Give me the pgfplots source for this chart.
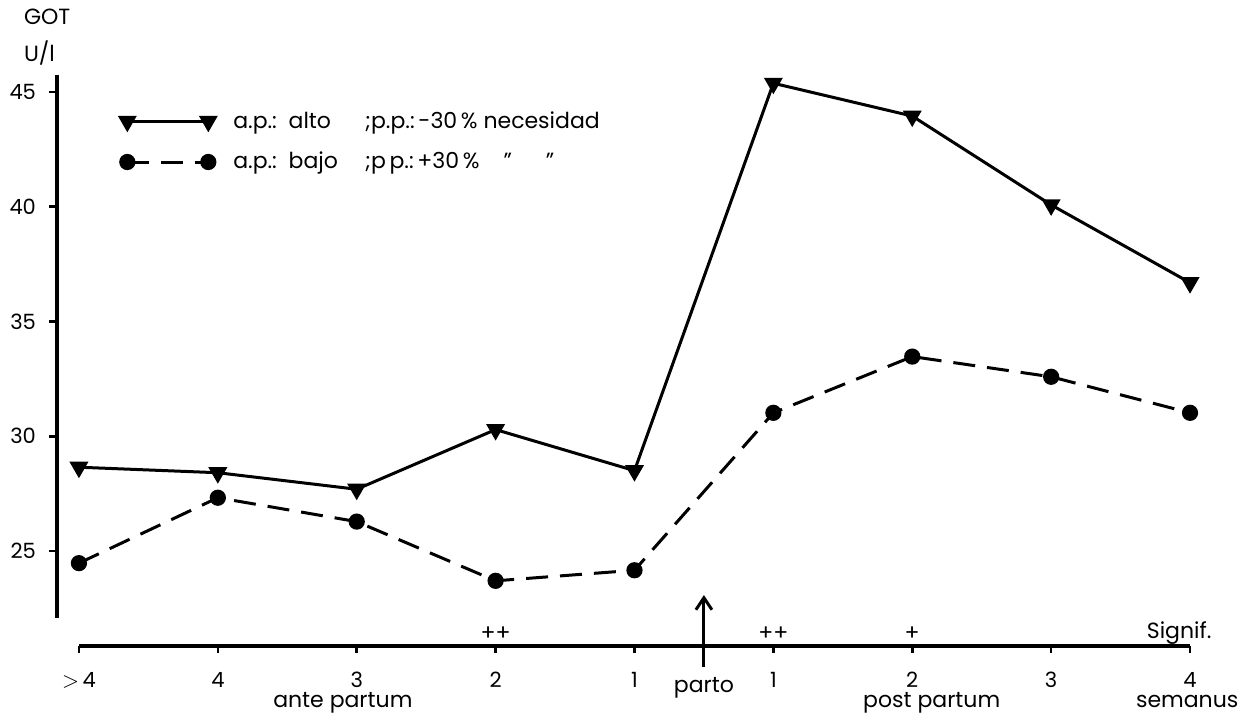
\documentclass[border=0pt]{standalone}
\usepackage{fontspec}
\setmainfont{Poppins}
\usepackage{pgfplots}
\usepackage{pgfplotstable}
\pgfplotsset{compat=1.18}
\usetikzlibrary{arrows.meta}

\pgfplotstableread{
x alto bajo
0 28.65 24.47
1 28.41 27.32
2 27.69 26.28
3 30.29 23.70
4 28.50 24.16
5 45.38 31.02
6 43.95 33.47
7 40.08 32.59
8 36.69 31.02
}\datatable

\begin{document}
\begin{tikzpicture}[font=\fontsize{11}{13}\selectfont]
\useasboundingbox (-28.5pt,-49pt) rectangle (594pt,309pt);
\begin{axis}[
  at={(0pt,0pt)}, anchor=south west,
  width=566.5pt, height=271.5pt, scale only axis,
  xmin=-0.158, xmax=8, ymin=22.08, ymax=45.74,
  axis y line*=left, axis x line=none,
  ytick={25,30,35,40,45},
  tick align=outside, major tick length=4pt,
  tick style={line width=1.3pt, black},
  axis line style={line width=1.8pt},
  yticklabel style={xshift=-3pt, font=\fontsize{10.5}{12}\selectfont},
  /pgf/number format/assume math mode=true,
  clip=false,
  legend style={at={(rel axis cs:0,1)}, anchor=north west, xshift=31.5pt, yshift=-17pt,
    draw=none, fill=none, inner sep=0pt, row sep=8.5pt, column sep=8pt,
    nodes={inner sep=1pt}, cells={anchor=west}, font=\fontsize{11}{13}\selectfont},
  legend image code/.code={\draw[#1] plot coordinates {(0pt,0pt) (40.5pt,0pt)};},
]
\addplot[line width=1.5pt, mark=triangle*, mark size=4pt, mark options={rotate=180}]
  table[x=x,y=alto]{\datatable};
\addlegendentry{\makebox[66pt][l]{a.p.:\ \ alto};p.p.:\,-30\,\%\ necesidad}
\addplot[line width=1.5pt, dash pattern=on 11pt off 6pt, mark=*, mark size=3.3pt, mark options={solid}]
  table[x=x,y=bajo]{\datatable};
\addlegendentry{\makebox[66pt][l]{a.p.:\ \ bajo};p\,p.:\,+30\,\%\hspace{12pt}"\hspace{17pt}"}
\node[anchor=west, xshift=-20pt, yshift=29pt] at (rel axis cs:0,1) {GOT};
\node[anchor=west, xshift=-20pt, yshift=11pt] at (rel axis cs:0,1) {U/l};
\draw[line width=1.5pt, -{Straight Barb[length=6pt,width=8pt,line width=1.5pt]}]
  (axis cs:4.5,19.95) -- (axis cs:4.5,23.08);
\end{axis}
\begin{axis}[
  at={(11pt,-14pt)}, anchor=south west,
  width=555.5pt, height=20pt, scale only axis,
  xmin=0, xmax=8, ymin=0, ymax=1,
  axis x line*=bottom, axis y line=none,
  xtick={0,...,8}, xticklabels={{$>$\,4},4,3,2,1,1,2,3,4},
  tick align=outside, major tick length=3.5pt,
  tick style={line width=1.3pt, black},
  axis line style={line width=1.6pt},
  xticklabel style={anchor=base, yshift=-17pt, font=\fontsize{10.5}{12}\selectfont},
  /pgf/number format/assume math mode=true,
  clip=false,
]
\node[anchor=base, yshift=-30.5pt] at (axis cs:1.9,0) {ante partum};
\node[anchor=base, yshift=-30.5pt] at (axis cs:6.14,0) {post partum};
\node[anchor=base, yshift=-30.5pt] at (axis cs:7.98,0) {semanus};
\node[anchor=base, yshift=-23pt] at (axis cs:4.5,0) {parto};
\node[anchor=south, inner sep=0pt, yshift=2.5pt] at (axis cs:3,0) {++};
\node[anchor=south, inner sep=0pt, yshift=2.5pt] at (axis cs:5,0) {++};
\node[anchor=south, inner sep=0pt, yshift=2.5pt] at (axis cs:6,0) {+};
\node[anchor=base east, inner sep=0pt, yshift=3.5pt] at (axis cs:8.157,0) {Signif.};
\end{axis}
\end{tikzpicture}
\end{document}
